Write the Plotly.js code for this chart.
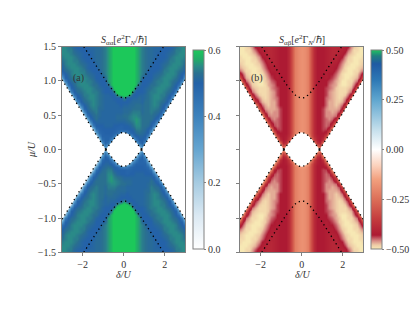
<!DOCTYPE html>
<html><head><meta charset="utf-8">
<script src="https://cdn.plot.ly/plotly-3.0.1.min.js"></script>
<style>html,body{margin:0;padding:0;background:#fff}#c{width:415px;height:312px}</style>
</head><body><div id="c"></div>
<script>
var deltaHalf=[0,.15,.3,.45,.6,.75,.9,1.05,1.2,1.35,1.5,1.65,1.8,1.95,2.1,2.25,2.4,2.55,2.7,2.85,3];
var muHalf=[0,.05,.1,.15,.2,.25,.3,.35,.4,.45,.5,.55,.6,.65,.7,.75,.8,.85,.9,.95,1,1.05,1.1,1.15,1.2,1.25,1.3,1.35,1.4,1.45,1.5];
// S_aa x100, one list per delta column, mu from 0 to 1.5 (delta>0, mu>0 quadrant)
var saaColumns=[
[0,0,0,0,20,40,50,50,51,52,53,52,52,51,50,55,62,62,62,62,62,62,62,62,62,62,62,62,62,62,62],
[0,0,0,0,22,42,50,50,52,53,53,52,52,51,50,50,60,62,62,62,62,62,62,62,62,62,62,62,62,62,62],
[0,0,0,14,32,48,50,51,53,54,54,53,52,52,51,50,56,62,62,62,62,62,62,62,62,62,62,62,62,62,62],
[0,0,12,30,46,50,51,53,54,55,55,54,53,52,52,51,50,54,61,61,61,61,61,61,61,61,61,61,61,61,61],
[0,12,28,44,50,52,54,55,56,56,55,54,53,53,52,51,50,50,52,58,58,58,58,58,58,58,58,58,58,58,58],
[14,30,46,50,51,53,54,55,55,55,54,54,53,53,52,52,51,50,50,52,56,56,56,56,56,56,56,56,56,56,56],
[25,42,50,50,51,52,53,53,53,53,53,52,52,52,51,51,51,50,50,50,50,52,54,54,54,54,54,54,54,54,54],
[10,20,36,47,50,51,52,53,53,53,53,53,53,53,53,52,52,51,51,50,50,50,52,53,53,53,53,53,53,53,53],
[0,0,10,20,40,49,50,52,53,53,53,53,53,53,53,53,53,53,52,51,50,50,50,50,52,52,52,52,52,52,52],
[0,0,0,6,16,32,46,50,51,53,53,54,54,54,54,54,54,54,53,53,51,50,50,50,50,51,52,52,52,52,52],
[0,0,0,0,4,12,22,42,49,51,52,53,54,55,55,55,55,54,54,53,53,52,51,50,50,50,50,51,51,51,51],
[0,0,0,0,0,0,8,18,36,47,50,52,53,54,54,55,55,55,55,54,54,53,52,51,50,50,50,50,50,51,51],
[0,0,0,0,0,0,0,0,14,28,44,50,51,52,53,54,54,55,55,55,54,54,53,52,51,51,50,50,50,50,50],
[0,0,0,0,0,0,0,0,0,8,18,38,48,50,52,53,54,54,55,55,55,55,54,54,53,52,51,50,50,50,50],
[0,0,0,0,0,0,0,0,0,0,0,15,28,44,50,51,52,53,54,55,55,55,55,54,54,53,52,51,51,50,50],
[0,0,0,0,0,0,0,0,0,0,0,0,9,19,39,49,50,52,53,54,54,55,55,55,55,54,54,53,52,51,50],
[0,0,0,0,0,0,0,0,0,0,0,0,0,0,15,30,45,50,51,52,53,54,55,55,55,55,54,54,53,52,51],
[0,0,0,0,0,0,0,0,0,0,0,0,0,0,0,10,20,40,49,50,52,53,54,54,55,55,55,55,54,54,53],
[0,0,0,0,0,0,0,0,0,0,0,0,0,0,0,0,0,15,30,45,50,51,52,53,54,55,55,55,55,54,54],
[0,0,0,0,0,0,0,0,0,0,0,0,0,0,0,0,0,0,10,21,41,49,50,52,53,54,54,55,55,55,55],
[0,0,0,0,0,0,0,0,0,0,0,0,0,0,0,0,0,0,0,0,15,32,45,50,51,52,53,54,55,55,55]];
// the delta<0, mu>0 quadrant is bluer close to the centre; only those columns differ
var saaLeftNear=[
[0,0,0,0,20,40,50,50,51,52,53,52,52,51,50,55,62,62,62,62,62,62,62,62,62,62,62,62,62,62,62],
[0,0,0,0,22,42,49,49,51,52,52,51,51,50,50,50,60,62,62,62,62,62,62,62,62,62,62,62,62,62,62],
[0,0,0,14,32,47,49,50,51,52,52,51,51,51,50,50,56,62,62,62,62,62,62,62,62,62,62,62,62,62,62],
[0,0,12,30,45,49,50,50,51,51,51,51,51,51,51,50,50,54,61,61,61,61,61,61,61,61,61,61,61,61,61],
[0,12,28,43,49,50,50,51,51,51,51,51,51,51,51,51,50,50,52,58,58,58,58,58,58,58,58,58,58,58,58],
[14,30,45,49,49,50,50,51,51,51,51,51,51,51,51,51,51,50,50,52,56,56,56,56,56,56,56,56,56,56,56],
[25,42,49,49,49,50,50,51,51,51,51,51,51,51,51,51,51,50,50,50,50,52,54,54,54,54,54,54,54,54,54],
[10,20,36,46,49,49,50,50,51,51,51,51,52,52,52,52,52,51,51,50,50,50,52,53,53,53,53,53,53,53,53],
[0,0,10,20,39,47,49,50,51,51,52,52,52,53,53,53,53,53,52,51,50,50,50,50,52,52,52,52,52,52,52]];
// S_ab x100, same layout
var sabColumns=[
[0,0,0,0,-10,-16,-18,-18,-18,-18,-18,-18,-18,-18,-18,-18,-18,-18,-18,-18,-18,-18,-18,-18,-18,-18,-18,-18,-18,-18,-18],
[0,0,0,0,-11,-17,-19,-19,-19,-19,-19,-19,-19,-19,-19,-19,-19,-19,-19,-19,-19,-19,-19,-19,-19,-19,-19,-19,-19,-19,-19],
[0,0,0,-8,-16,-22,-22,-22,-22,-22,-22,-22,-22,-22,-22,-22,-22,-22,-22,-22,-22,-22,-22,-22,-22,-22,-22,-22,-22,-22,-22],
[0,0,-8,-20,-30,-31,-31,-31,-31,-31,-31,-31,-31,-31,-31,-31,-31,-31,-31,-31,-31,-31,-31,-31,-31,-31,-31,-31,-31,-31,-31],
[0,-9,-22,-35,-38,-39,-39,-39,-39,-39,-39,-39,-39,-39,-39,-39,-39,-39,-39,-39,-39,-39,-39,-39,-39,-39,-39,-39,-39,-39,-39],
[-12,-26,-38,-41,-42,-43,-43,-43,-43,-43,-43,-43,-43,-43,-43,-43,-43,-43,-43,-43,-43,-43,-43,-43,-43,-43,-43,-43,-43,-43,-43],
[-15,-32,-41,-43,-43,-43,-43,-43,-43,-43,-43,-43,-43,-43,-43,-43,-43,-43,-43,-43,-43,-43,-43,-43,-43,-43,-43,-43,-43,-43,-43],
[-5,-12,-24,-38,-42,-43,-44,-44,-44,-44,-44,-44,-44,-43,-43,-43,-43,-43,-43,-43,-43,-43,-43,-43,-43,-43,-43,-43,-43,-43,-43],
[0,0,-8,-18,-34,-42,-44,-45,-45,-45,-46,-46,-46,-45,-45,-45,-44,-44,-44,-43,-43,-42,-42,-42,-42,-42,-42,-42,-42,-42,-42],
[0,0,0,-6,-14,-28,-41,-44,-45,-46,-46,-46,-47,-47,-47,-46,-46,-46,-45,-45,-44,-43,-43,-42,-42,-41,-41,-41,-41,-41,-41],
[0,0,0,0,-4,-10,-20,-37,-43,-45,-46,-47,-47,-47,-47,-47,-47,-47,-46,-46,-45,-44,-43,-42,-42,-41,-41,-40,-40,-40,-40],
[0,0,0,0,0,0,-6,-15,-33,-41,-45,-46,-47,-48,-48,-48,-48,-48,-48,-47,-47,-46,-45,-44,-43,-42,-41,-41,-40,-40,-40],
[0,0,0,0,0,0,0,0,-12,-24,-38,-44,-46,-47,-48,-49,-49,-49,-49,-49,-48,-48,-47,-46,-45,-44,-43,-42,-41,-41,-40],
[0,0,0,0,0,0,0,0,0,-8,-15,-34,-42,-45,-47,-48,-49,-49,-49,-50,-50,-49,-49,-48,-47,-46,-45,-43,-42,-41,-41],
[0,0,0,0,0,0,0,0,0,0,0,-13,-28,-40,-44,-46,-48,-49,-49,-50,-50,-50,-50,-49,-49,-48,-47,-46,-44,-42,-42],
[0,0,0,0,0,0,0,0,0,0,0,0,-8,-18,-36,-43,-45,-47,-48,-49,-49,-50,-50,-50,-50,-49,-49,-48,-47,-45,-43],
[0,0,0,0,0,0,0,0,0,0,0,0,0,0,-13,-30,-41,-45,-47,-48,-49,-49,-50,-50,-50,-50,-49,-49,-48,-47,-46],
[0,0,0,0,0,0,0,0,0,0,0,0,0,0,0,-8,-18,-37,-43,-45,-47,-48,-49,-49,-50,-50,-50,-50,-49,-49,-48],
[0,0,0,0,0,0,0,0,0,0,0,0,0,0,0,0,0,-13,-30,-41,-45,-47,-48,-49,-49,-50,-50,-50,-50,-49,-49],
[0,0,0,0,0,0,0,0,0,0,0,0,0,0,0,0,0,0,-8,-19,-37,-43,-45,-47,-48,-49,-49,-50,-50,-50,-50],
[0,0,0,0,0,0,0,0,0,0,0,0,0,0,0,0,0,0,0,0,-13,-30,-41,-45,-47,-48,-49,-49,-50,-50,-50]];
// boundary curves (delta>=0, mu>=0)
var outerD=[.87,.9,1,1.2,1.4,1.6,1.8,2,2.2,2.4,2.6,2.8,3];
var outerM=[0,.015,.059,.15,.243,.338,.434,.531,.628,.726,.824,.922,1.021];
var upperD=[0,.1,.2,.3,.4,.5,.6,.7,.8,.9,1,1.2,1.4,1.6,1.8,1.94];
var upperM=[.75,.755,.769,.792,.82,.854,.891,.93,.972,1.015,1.059,1.15,1.243,1.338,1.434,1.5];
var lensD=[0,.1,.2,.3,.4,.5,.6,.7,.8,.87];
var lensM=[.25,.245,.231,.208,.18,.146,.109,.07,.028,0];
var xTicks=[-2,0,2], yTicks=[-1.5,-1,-.5,0,.5,1,1.5];
var yTickText=['−1.5','−1.0','−0.5','0.0','0.5','1.0','1.5'];
var cbaTicks=[0,.2,.4,.6], cbaText=['0.0','0.2','0.4','0.6'];
var cbbTicks=[-.5,-.25,0,.25,.5], cbbText=['−0.50','−0.25','0.00','0.25','0.50'];
var titleA='<i>S</i><sub>αα</sub>[<i>e</i><sup>2</sup>Γ<sub><i>N</i></sub>/ℏ]';
var titleB='<i>S</i><sub>αβ</sub>[<i>e</i><sup>2</sup>Γ<sub><i>N</i></sub>/ℏ]';
var scaleA=[[0,'#ffffff'],[.167,'#dbe9f3'],[.333,'#a6cbe1'],[.5,'#65a5d0'],[.667,'#3d82bc'],[.833,'#2462a8'],[.883,'#2a7090'],[.917,'#2a8a88'],[.95,'#22a86a'],[1,'#1cc85a']];
var scaleB=[[0,'#f7e8b4'],[.02,'#eecba6'],[.04,'#d98e86'],[.055,'#c25560'],[.07,'#ad1a33'],[.15,'#c43c3e'],[.25,'#dc6f58'],[.35,'#f2a07e'],[.42,'#fbd2bd'],[.5,'#ffffff'],[.6,'#c4dfec'],[.75,'#5fa6cf'],[.85,'#2d78b5'],[.93,'#1f5aa3'],[.97,'#1f7f7f'],[1,'#1fc45f']];

var X=deltaHalf.slice(1).reverse().map(function(v){return -v}).concat(deltaHalf);
var Y=muHalf.slice(1).reverse().map(function(v){return -v}).concat(muHalf);
function grid(cols,near){
  var z=[];
  for(var r=0;r<Y.length;r++){var row=[];var j=Math.abs(r-30);
    for(var c=0;c<X.length;c++){var k=Math.abs(c-20);
      var same=(c-20)*(r-30)>=0;
      var col=(!same&&near&&k<near.length)?near[k]:cols[k];
      row.push(col[j]/100);}
    z.push(row);}
  return z;
}
var F='Liberation Serif, serif', FC='#333333', G='#808080', FS=10;
function neg(a){return a.map(function(v){return -v})}
function rev(a){return a.slice().reverse()}
function curves(xa,ya){
  var out=[];
  function white(x,y){out.push({type:'scatter',mode:'lines',x:x,y:y,xaxis:xa,yaxis:ya,fill:'toself',fillcolor:'#ffffff',line:{width:0},hoverinfo:'skip',showlegend:false});}
  white(outerD.concat(rev(outerD)),outerM.concat(neg(rev(outerM))));
  white(neg(outerD).concat(rev(neg(outerD))),outerM.concat(neg(rev(outerM))));
  white(neg(rev(lensD)).concat(lensD).concat(rev(lensD)).concat(neg(lensD)),rev(lensM).concat(lensM).concat(neg(rev(lensM))).concat(neg(lensM)));
  function dots(x,y){out.push({type:'scatter',mode:'lines',x:x,y:y,xaxis:xa,yaxis:ya,line:{color:'#000',width:1.3,dash:'1.3px,3.2px'},hoverinfo:'skip',showlegend:false});}
  var ud=neg(rev(upperD)).concat(upperD), um=rev(upperM).concat(upperM);
  dots(ud,um); dots(ud,neg(um));
  var ld=neg(rev(lensD)).concat(lensD), lm=rev(lensM).concat(lensM);
  dots(ld,lm); dots(ld,neg(lm));
  dots(outerD,outerM); dots(outerD,neg(outerM)); dots(neg(outerD),outerM); dots(neg(outerD),neg(outerM));
  return out;
}
function cb(x,tv,tt){return {x:x,xanchor:'left',xref:'paper',y:1-149.5/312,yanchor:'middle',yref:'paper',lenmode:'pixels',len:199,thicknessmode:'pixels',thickness:11,outlinecolor:G,outlinewidth:1,ticks:'outside',ticklen:2,tickcolor:G,tickwidth:1,tickvals:tv,ticktext:tt,tickfont:{family:F,size:FS,color:FC},xpad:0,ypad:0};}
var traces=[
 {type:'heatmap',x:X,y:Y,z:grid(saaColumns,saaLeftNear),zmin:0,zmax:.6,zsmooth:'best',colorscale:scaleA,xaxis:'x',yaxis:'y',colorbar:cb(192.5/415,cbaTicks,cbaText),hoverinfo:'skip'},
 {type:'heatmap',x:X,y:Y,z:grid(sabColumns),zmin:-.5,zmax:.5,zsmooth:'best',colorscale:scaleB,xaxis:'x2',yaxis:'y2',colorbar:cb(371/415,cbbTicks,cbbText),hoverinfo:'skip'}
].concat(curves('x','y')).concat(curves('x2','y2'));
function xa(d){return {domain:d,range:[-3,3],tickvals:xTicks,ticktext:['−2','0','2'],ticks:'outside',ticklen:3,tickcolor:G,linecolor:G,linewidth:1,mirror:true,showgrid:false,zeroline:false,tickfont:{family:F,size:FS,color:FC}};}
function ya(d,lab){return {domain:[1-252.3/312,1-46.7/312],range:[-1.5,1.5],tickvals:yTicks,ticktext:yTickText,showticklabels:lab,ticks:'outside',ticklen:3,tickcolor:G,linecolor:G,linewidth:1,mirror:true,showgrid:false,zeroline:false,tickfont:{family:F,size:FS,color:FC},anchor:d};}
function note(t,x,y,extra){return Object.assign({text:t,xref:'paper',yref:'paper',x:x/415,y:1-y/312,xanchor:'center',yanchor:'middle',showarrow:false,font:{family:F,size:FS,color:FC}},extra||{});}
var layout={width:415,height:312,margin:{l:0,r:0,t:0,b:0},paper_bgcolor:'#fff',plot_bgcolor:'#fff',showlegend:false,
 xaxis:xa([62/415,185.3/415]),yaxis:ya('x',true),
 xaxis2:Object.assign(xa([240/415,363.3/415]),{anchor:'y2'}),yaxis2:ya('x2',false),
 annotations:[
  note(titleA,123.7,39.5),note(titleB,302,39.5),
  note('<i>δ/U</i>',123.7,274),note('<i>δ/U</i>',302,274),
  note('<i>μ/U</i>',31,150,{textangle:-90}),
  {text:'(a)',xref:'x',yref:'y',x:-2.2,y:1.04,showarrow:false,font:{family:F,size:FS,color:FC}},
  {text:'(b)',xref:'x2',yref:'y2',x:-2.17,y:1.04,showarrow:false,font:{family:F,size:FS,color:FC}}
 ]};
Plotly.newPlot('c',traces,layout,{displayModeBar:false,staticPlot:true});
</script></body></html>
